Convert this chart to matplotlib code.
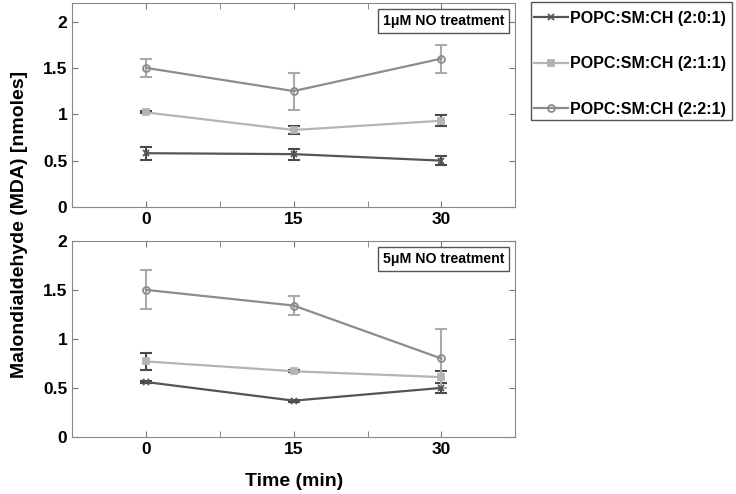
import matplotlib
matplotlib.use('Agg')
import matplotlib.pyplot as plt
from matplotlib.patches import Rectangle

plt.rcParams['font.family'] = ['Liberation Sans', 'DejaVu Sans']
plt.rcParams['font.weight'] = 'bold'

time = [0, 15, 30]
labels = ['POPC:SM:CH (2:0:1)', 'POPC:SM:CH (2:1:1)', 'POPC:SM:CH (2:2:1)']

# 1uM NO treatment
top_201 = [0.58, 0.57, 0.50]
top_201_err = [0.07, 0.06, 0.05]
top_211 = [1.02, 0.83, 0.93]
top_211_err = [0.01, 0.04, 0.06]
top_221 = [1.50, 1.25, 1.60]
top_221_err = [0.10, 0.20, 0.15]

# 5uM NO treatment
bot_201 = [0.56, 0.37, 0.50]
bot_201_err = [0.01, 0.01, 0.05]
bot_211 = [0.77, 0.67, 0.61]
bot_211_err = [0.09, 0.01, 0.06]
bot_221 = [1.50, 1.34, 0.80]
bot_221_err = [0.20, 0.10, 0.30]

line_colors = ['#555555', '#b4b4b4', '#8c8c8c']
err_colors = ['#4a4a4a', '#4a4a4a', '#aaaaaa']
markers = ['x', 's', 'o']


def draw_panel(ax, series, errs, title, ymax):
    for i in range(3):
        ax.errorbar(time, series[i], yerr=errs[i], fmt='none', ecolor=err_colors[i],
                    elinewidth=1.5, capsize=4, capthick=1.5, zorder=2)
        mfc = 'none' if markers[i] == 'o' else line_colors[i]
        ax.plot(time, series[i], color=line_colors[i], lw=1.6, marker=markers[i],
                markersize=5, mfc=mfc, mew=1.3, label=labels[i], zorder=3)
    ax.set_xlim(-7.5, 37.5)
    ax.set_ylim(0, ymax)
    ax.set_xticks([0, 15, 30])
    ax.set_xticks([7.5, 22.5], minor=True)
    ax.set_yticks([0, 0.5, 1, 1.5, 2])
    ax.set_yticklabels(['0', '0.5', '1', '1.5', '2'])
    ax.tick_params(direction='in', top=True, right=True, labelsize=12.5, length=4,
                   color='#777777')
    ax.tick_params(which='minor', direction='in', top=True, length=4, color='#777777')
    for s in ax.spines.values():
        s.set_color('#888888')
    ax.text(0.975, 0.945, title, transform=ax.transAxes, ha='right', va='top',
            fontsize=10.2, fontweight='bold',
            bbox=dict(boxstyle='square,pad=0.35', fc='white', ec='#555555', lw=1))


fig = plt.figure(figsize=(7.36, 4.94), dpi=100)
ax1 = fig.add_axes([0.098, 0.581, 0.602, 0.413])
ax2 = fig.add_axes([0.098, 0.1155, 0.602, 0.397])

draw_panel(ax1, [top_201, top_211, top_221], [top_201_err, top_211_err, top_221_err],
           '1\u03bcM NO treatment', 2.2)
draw_panel(ax2, [bot_201, bot_211, bot_221], [bot_201_err, bot_211_err, bot_221_err],
           '5\u03bcM NO treatment', 2.0)

ax2.set_xlabel('Time (min)', fontsize=14, fontweight='bold', labelpad=12)
fig.text(0.027, 0.545, 'Malondialdehyde (MDA) [nmoles]', rotation=90, ha='center',
         va='center', fontsize=14, fontweight='bold')

# legend box drawn separately (tighter sides than top/bottom)
fig.patches.append(Rectangle((531 / 736, 1 - 120 / 494), 201 / 736, 118 / 494,
                             transform=fig.transFigure, fc='white', ec='#555555',
                             lw=1, zorder=0))
handles, lbls = ax1.get_legend_handles_labels()
fig.legend(handles, lbls, loc='upper left', bbox_to_anchor=(534 / 736, 1 - 11 / 494),
           fontsize=11.5, frameon=False, handlelength=2.1, handletextpad=0.15,
           labelspacing=1.9, borderpad=0, borderaxespad=0)

fig.savefig('out.png', dpi=100)
